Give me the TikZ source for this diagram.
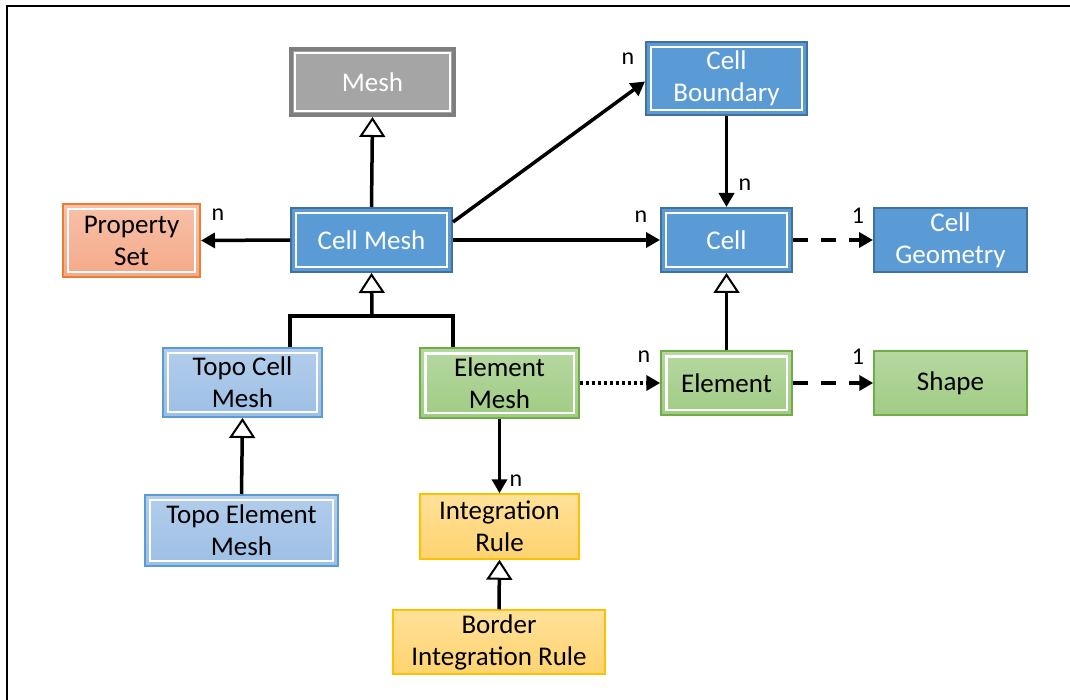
\documentclass[tikz,border=0pt]{standalone}
\usepackage{fontspec}
\setmainfont{Carlito}
\usetikzlibrary{arrows.meta}
\definecolor{bluefill}{HTML}{5B9BD5}
\definecolor{blueline}{HTML}{41719C}
\definecolor{grayfill}{HTML}{A5A5A5}
\definecolor{grayline}{HTML}{7F7F7F}
\definecolor{orangeline}{HTML}{ED7D31}
\definecolor{orangetop}{HTML}{F8C1A9}
\definecolor{orangebot}{HTML}{F4A989}
\definecolor{ltbluetop}{HTML}{B3CDEB}
\definecolor{ltbluebot}{HTML}{9CBFE5}
\definecolor{greenline}{HTML}{70AD47}
\definecolor{greentop}{HTML}{B6D8A1}
\definecolor{greenbot}{HTML}{A0CB84}
\definecolor{yellowline}{HTML}{FFC000}
\definecolor{yellowtop}{HTML}{FFE199}
\definecolor{yellowbot}{HTML}{FFD36F}
\tikzset{
  x=1pt, y=-1pt,
  every node/.style={font=\fontsize{27}{32}\selectfont, align=center},
  box/.style={rectangle, inner sep=0pt},
  bluebox/.style={box, fill=bluefill, draw=blueline, line width=2pt, text=white},
  graybox/.style={box, fill=grayfill, draw=grayline, line width=4pt, text=white},
  orangebox/.style={box, top color=orangetop, bottom color=orangebot, draw=orangeline, line width=2pt, text=black},
  ltbluebox/.style={box, top color=ltbluetop, bottom color=ltbluebot, draw=bluefill, line width=2pt, text=black},
  greenbox/.style={box, top color=greentop, bottom color=greenbot, draw=greenline, line width=1.5pt, text=black},
  yellowbox/.style={box, top color=yellowtop, bottom color=yellowbot, draw=yellowline, line width=1.5pt, text=black},
  inner/.style={draw=white, line width=2.5pt},
  conn/.style={line width=3.5pt, draw=black},
  assoc/.style={conn, -{Triangle[length=14pt,width=15pt]}},
  dashedassoc/.style={assoc, dash pattern=on 15pt off 13pt},
  dottedassoc/.style={assoc, dash pattern=on 3pt off 3pt},
  inherit/.style={conn, -{Triangle[open, length=20pt, width=26pt, fill=white, line width=2pt]}},
  lbl/.style={font=\fontsize{24}{28}\selectfont, text=black, inner sep=0pt},
}
\newcommand{\innerrect}[1]{\draw[inner] ([shift={(6pt,-6pt)}]#1.north west) rectangle ([shift={(-6pt,6pt)}]#1.south east);}
\begin{document}
\begin{tikzpicture}
\useasboundingbox (0,0) rectangle (1070,700);
\draw[line width=1.5pt] (7,700) -- (7,6) -- (1070,6);

\node[graybox, minimum width=163pt, minimum height=66pt] (mesh) at (372.5,82) {Mesh};
\node[bluebox, minimum width=161pt, minimum height=73pt] (cb) at (726.5,78.5) {Cell\\Boundary};
\node[orangebox, minimum width=137pt, minimum height=73pt] (ps) at (131.5,240.5) {Property\\Set};
\node[bluebox, minimum width=161pt, minimum height=64pt] (cm) at (371.5,240) {Cell Mesh};
\node[bluebox, minimum width=131pt, minimum height=64pt] (cell) at (726.5,240) {Cell};
\node[bluebox, minimum width=153pt, minimum height=64pt] (cg) at (950.5,240) {Cell\\Geometry};
\node[ltbluebox, minimum width=159pt, minimum height=69pt] (tcm) at (242.5,382.5) {Topo Cell\\Mesh};
\node[greenbox, minimum width=159pt, minimum height=70pt] (em) at (499.5,383) {Element\\Mesh};
\node[greenbox, minimum width=131pt, minimum height=64pt] (el) at (726.5,383) {Element};
\node[greenbox, minimum width=153pt, minimum height=64pt] (sh) at (950.5,383) {Shape};
\node[ltbluebox, minimum width=193pt, minimum height=71pt] (tem) at (241.5,530.5) {Topo Element\\Mesh};
\node[yellowbox, minimum width=159pt, minimum height=65pt] (ir) at (499.5,526.5) {Integration\\Rule};
\node[yellowbox, minimum width=212pt, minimum height=64pt] (bir) at (499,642) {Border\\Integration Rule};

\innerrect{mesh}
\innerrect{cb}
\innerrect{ps}
\innerrect{cm}
\innerrect{cell}
\innerrect{tcm}
\innerrect{em}
\innerrect{el}
\innerrect{tem}

% inheritance
\draw[inherit] (cm.north) -- (mesh.south);
\coordinate (j) at (372,316);
\draw[conn] (tcm.north -| cm.west) |- (j);
\draw[conn] (em.north -| cm.east) |- (j);
\draw[inherit] (j) -- (cm.south);
\draw[inherit] (el.north) -- (cell.south);
\draw[inherit] (tem.north) -- (tcm.south);
\draw[inherit] (bir.north) -- (ir.south);

% associations
\draw[assoc] (cm.west) -- (ps.east);
\draw[assoc] ([yshift=18pt]cm.east) -- ([yshift=-3pt]cb.west);
\draw[assoc] (cm.east) -- (cell.west);
\draw[assoc] (cb.south) -- (cell.north);
\draw[dashedassoc] (cell.east) -- (cg.west);
\draw[dottedassoc] (em.east) -- (el.west);
\draw[dashedassoc] (el.east) -- (sh.west);
\draw[assoc] (em.south) -- (ir.north);

% multiplicities
\node[lbl] (l1) at (218,215) {n};
\node[lbl] (l2) at (628,59) {n};
\node[lbl] (l3) at (641,217) {n};
\node[lbl] (l4) at (745,185) {n};
\node[lbl] (l5) at (858,216) {1};
\node[lbl] (l6) at (644,357) {n};
\node[lbl] (l7) at (858,357) {1};
\node[lbl] (l8) at (516,481) {n};
\end{tikzpicture}
\end{document}
